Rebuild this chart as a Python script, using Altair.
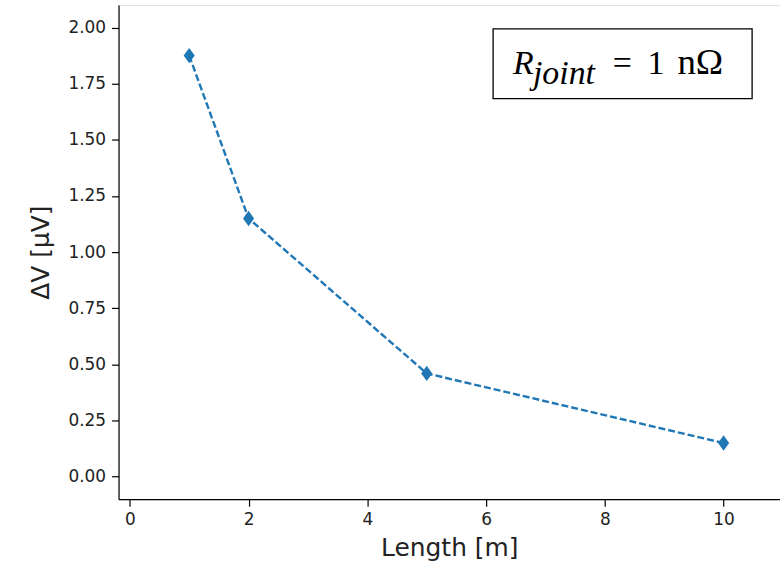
import altair as alt
import pandas as pd

length_m = [1, 2, 5, 10]
delta_v = [1.875, 1.15, 0.46, 0.15]
x_ticks = [0, 2, 4, 6, 8, 10]
y_ticks = [0.0, 0.25, 0.5, 0.75, 1.0, 1.25, 1.5, 1.75, 2.0]

df = pd.DataFrame({"Length": length_m, "dV": delta_v})

W, H = 664, 496
COLOR = "#1f77b4"

common = dict(grid=False, tickSize=7, tickColor="black", tickWidth=1.2,
              domainColor="black", domainWidth=1.2,
              labelFontSize=17, labelColor="#222", labelFont="DejaVu Sans",
              titleFontSize=25, titleFontWeight="normal", titleColor="#222",
              titleFont="DejaVu Sans")

x = alt.X("Length:Q", scale=alt.Scale(domain=[-0.19, 10.95], nice=False, zero=False),
          axis=alt.Axis(values=x_ticks, title="Length [m]", format="d",
                        labelPadding=5, titlePadding=9, **common))
y = alt.Y("dV:Q", scale=alt.Scale(domain=[-0.1, 2.1], nice=False, zero=False),
          axis=alt.Axis(values=y_ticks, title="ΔV [μV]", format=".2f",
                        labelPadding=6, titlePadding=14, **common))

line = alt.Chart(df).mark_line(color=COLOR, strokeWidth=2.4, strokeDash=[7, 3]).encode(x=x, y=y)
pts = alt.Chart(df).mark_point(shape="M0,-1L0.72,0L0,1L-0.72,0Z", filled=True, color=COLOR,
                               opacity=1, size=240).encode(x=x, y=y)

dummy = pd.DataFrame({"a": [0]})
box = alt.Chart(dummy).mark_rect(fill="white", stroke="black", strokeWidth=1.3).encode(
    x=alt.value(376), x2=alt.value(636), y=alt.value(24), y2=alt.value(94))

def txt(s, px, py, size, italic):
    return alt.Chart(dummy).mark_text(text=s, font="Liberation Serif", fontSize=size,
                                      fontStyle="italic" if italic else "normal",
                                      align="left", baseline="alphabetic", color="black").encode(
        x=alt.value(px), y=alt.value(py))

label = (txt("R", 396, 69, 34, True) + txt("joint", 416, 79, 34, True)
         + txt("=", 496, 69, 34, False) + txt("1", 531, 69, 34, False)
         + txt("nΩ", 561, 69, 37, False))

chart = alt.layer(line, pts, box, label).properties(
    width=W, height=H,
    autosize=alt.AutoSizeParams(type="none"),
    padding={"left": 119, "top": 4, "right": 0, "bottom": 66},
).configure_view(stroke="black", strokeWidth=1.2).configure(background="white")

chart.save("out.html", embed_options={"renderer": "svg", "actions": False})
